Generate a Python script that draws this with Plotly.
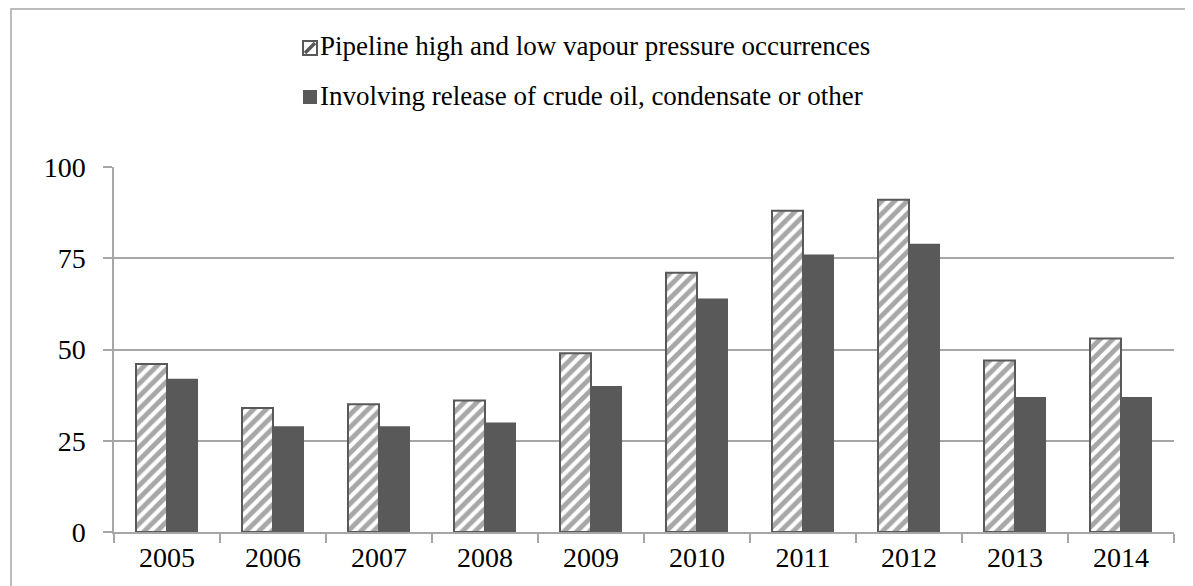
import plotly.graph_objects as go

years = ["2005", "2006", "2007", "2008", "2009", "2010", "2011", "2012", "2013", "2014"]
pipeline_occurrences = [46, 34, 35, 36, 49, 71, 88, 91, 47, 53]
release_occurrences = [42, 29, 29, 30, 40, 64, 76, 79, 37, 37]
series_names = ["Pipeline high and low vapour pressure occurrences",
                "Involving release of crude oil, condensate or other"]
y_ticks = [0, 25, 50, 75, 100]

DARK = "#595959"
GRID = "#a6a6a6"
FONT = "Liberation Serif"
FS = 28
LFS = 27

fig = go.Figure()
fig.add_trace(go.Bar(
    x=years, y=pipeline_occurrences, name=series_names[0], showlegend=False,
    marker=dict(color="white", line=dict(color=DARK, width=2),
                pattern=dict(shape="/", fgcolor="#505050", bgcolor="white", size=9, solidity=0.55)),
))
fig.add_trace(go.Bar(
    x=years, y=release_occurrences, name=series_names[1], showlegend=False,
    marker=dict(color=DARK, line=dict(color=DARK, width=0)),
))

# the page body has an 8px offset, so positions are set 8px up/left of the target
W, H = 1193, 586
L, T = 106, 159
PW, PH = 1060, 365
R, B = W - L - PW, H - T - PH
OFF = 8


def px(x):
    return (x - OFF - L) / PW


def py(y):
    return 1 - (y - OFF - T) / PH


fig.update_layout(
    width=W, height=H,
    margin=dict(l=L, r=R, t=T, b=B, autoexpand=False),
    paper_bgcolor="white", plot_bgcolor="white",
    font=dict(family=FONT, size=FS, color="black"),
    barmode="group", bargap=0.415, bargroupgap=0,
    showlegend=False,
    xaxis=dict(type="category", showline=True, linecolor=GRID, linewidth=1.5,
               ticks="outside", tickson="boundaries", ticklen=9, tickcolor=GRID,
               tickwidth=1.5, showgrid=False, automargin=False,
               tickfont=dict(family=FONT, size=FS)),
    yaxis=dict(range=[0, 100], tickvals=y_ticks, showline=True, linecolor=GRID, linewidth=1.5,
               ticks="outside", ticklen=9, tickcolor=GRID, tickwidth=1.5,
               showgrid=True, gridcolor=GRID, gridwidth=1.5, zeroline=False,
               automargin=False, ticklabelstandoff=12,
               tickfont=dict(family=FONT, size=FS)),
)

# outer chart-area border (top and left visible; cropped on the right and bottom)
fig.add_shape(type="rect", xref="paper", yref="paper",
              x0=px(11), x1=px(W + 30), y0=py(H + 30), y1=py(9),
              line=dict(color=GRID, width=1.5), fillcolor="rgba(0,0,0,0)", layer="below")

# legend (drawn manually: marker squares + text labels)
legend_rows = [(series_names[0], 48, 46, "hatch"), (series_names[1], 97, 96, "solid")]
mx0, mx1 = 303, 317
for name, my, ty, kind in legend_rows:
    if kind == "hatch":
        fig.add_shape(type="rect", xref="paper", yref="paper",
                      x0=px(mx0), x1=px(mx1), y0=py(my + 7), y1=py(my - 7),
                      line=dict(color=DARK, width=2), fillcolor="white")
        fig.add_shape(type="line", xref="paper", yref="paper",
                      x0=px(mx0 + 2), x1=px(mx1 - 2), y0=py(my + 5), y1=py(my - 5),
                      line=dict(color=DARK, width=3.5))
    else:
        fig.add_shape(type="rect", xref="paper", yref="paper",
                      x0=px(mx0), x1=px(mx1), y0=py(my + 7), y1=py(my - 7),
                      line=dict(color=DARK, width=0), fillcolor=DARK)
    fig.add_annotation(xref="paper", yref="paper", x=px(318), y=py(ty),
                       xanchor="left", yanchor="middle", text=name, showarrow=False,
                       font=dict(family=FONT, size=LFS, color="black"))

fig.write_html("out.html")
